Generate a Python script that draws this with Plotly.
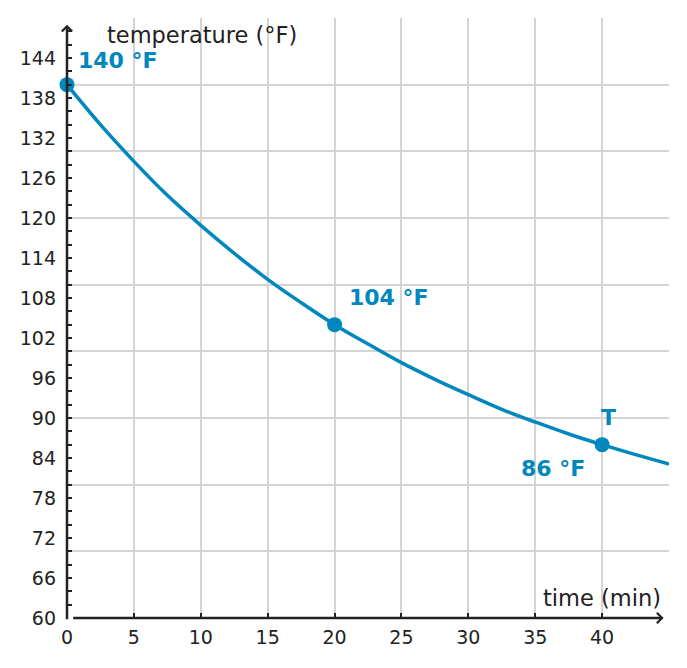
import plotly.graph_objects as go

# Curve (time in min, temperature in °F)
time_min = [0, 2.5, 5, 7.5, 10, 12.5, 15, 17.5, 20, 22.5, 25, 27.5, 30, 32.5, 35, 37.5, 40, 42.5, 45]
temp_f = [140, 134.0, 128.5, 123.4, 118.9, 114.7, 110.8, 107.3, 104, 101.1, 98.3, 95.8, 93.5, 91.3, 89.4, 87.6, 86, 84.5, 83.1]

# Highlighted points
pt_time = [0, 20, 40]
pt_temp = [140, 104, 86]
pt_labels = ["140 °F", "104 °F", "86 °F"]

x_ticks = [0, 5, 10, 15, 20, 25, 30, 35, 40]
y_ticks = [60, 66, 72, 78, 84, 90, 96, 102, 108, 114, 120, 126, 132, 138, 144]
y_grid = [70, 80, 90, 100, 110, 120, 130, 140]

BLUE = "#0087be"
DARK = "#222222"
GRID = "#d4d4d4"
FONT = "DejaVu Sans"

fig = go.Figure()
fig.add_trace(go.Scatter(x=[], y=[], yaxis="y2", showlegend=False, hoverinfo="skip"))
fig.add_trace(go.Scatter(x=time_min, y=temp_f, mode="lines",
                         line=dict(color=BLUE, width=3.5, shape="spline"),
                         showlegend=False, hoverinfo="skip"))
fig.add_trace(go.Scatter(x=pt_time, y=pt_temp, mode="markers",
                         marker=dict(color=BLUE, size=15), cliponaxis=False,
                         showlegend=False, hoverinfo="skip"))

annotations = []
# point labels
offsets = [dict(xanchor="left", xshift=9, yshift=24),
           dict(xanchor="left", xshift=12, yshift=27),
           dict(xanchor="right", xshift=-15, yshift=-24)]
for t, v, lab, off in zip(pt_time, pt_temp, pt_labels, offsets):
    annotations.append(dict(x=t, y=v, text="<b>" + lab + "</b>", showarrow=False,
                            yanchor="middle", font=dict(family=FONT, size=22, color=BLUE), **off))
annotations.append(dict(x=pt_time[2], y=pt_temp[2], text="<b>T</b>", showarrow=False,
                        xanchor="center", yanchor="middle", xshift=6, yshift=27,
                        font=dict(family=FONT, size=22, color=BLUE)))
# axis titles
annotations.append(dict(x=0, y=150, text="temperature (°F)", showarrow=False,
                        xanchor="left", yanchor="middle", xshift=38, yshift=-17,
                        font=dict(family=FONT, size=22.5, color=DARK)))
annotations.append(dict(x=45, y=60, text="time (min)", showarrow=False,
                        xanchor="right", yanchor="middle", xshift=-6, yshift=20,
                        font=dict(family=FONT, size=22.5, color=DARK)))
# axis arrows
annotations.append(dict(x=44.6, y=60, ax=0.35, ay=60, xref="x", yref="y", axref="x", ayref="y",
                        showarrow=True, arrowhead=4, arrowsize=0.8, arrowwidth=2.5,
                        arrowcolor=DARK, text=""))
annotations.append(dict(x=0, y=149.0, ax=0, ay=59.6, xref="x", yref="y", axref="x", ayref="y",
                        showarrow=True, arrowhead=4, arrowsize=0.8, arrowwidth=2.5,
                        arrowcolor=DARK, text=""))

fig.update_layout(
    width=687, height=668,
    margin=dict(l=67, r=18, t=18, b=50),
    plot_bgcolor="white", paper_bgcolor="white",
    showlegend=False,
    annotations=annotations,
    xaxis=dict(range=[0, 45], tickvals=x_ticks, ticks="inside", ticklen=5, tickwidth=2,
               tickcolor=DARK, showgrid=True, gridcolor=GRID, gridwidth=1.5,
               zeroline=False, showline=False, ticklabelstandoff=6,
               tickfont=dict(family=FONT, size=19, color=DARK)),
    yaxis=dict(range=[60, 150], tickvals=y_ticks, ticks="inside", ticklen=5, tickwidth=2,
               tickcolor=DARK, showgrid=False, zeroline=False, showline=False,
               ticklabelstandoff=10,
               minor=dict(dtick=2, tick0=60, ticks="inside", ticklen=5, tickwidth=2,
                          tickcolor=DARK, showgrid=False),
               tickfont=dict(family=FONT, size=19, color=DARK)),
    yaxis2=dict(range=[60, 150], overlaying="y", tickvals=y_grid, showticklabels=False,
                ticks="", showgrid=True, gridcolor=GRID, gridwidth=1.5, zeroline=False,
                showline=False),
)

fig.write_html("out.html")
